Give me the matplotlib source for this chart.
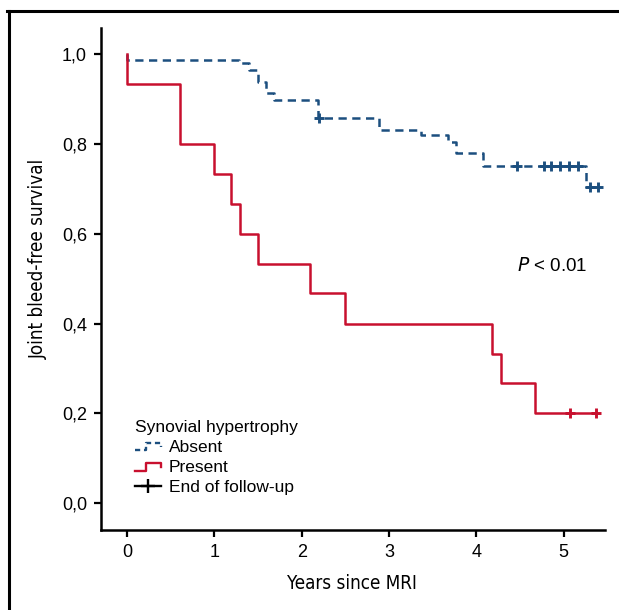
import matplotlib
matplotlib.use("Agg")
import matplotlib.pyplot as plt
from matplotlib.lines import Line2D
from matplotlib.legend_handler import HandlerBase

# Kaplan-Meier steps, synovial hypertrophy absent
absent_t = [0, 0, 1.28, 1.40, 1.50, 1.59, 1.68, 2.19, 2.88, 3.37, 3.67, 3.77, 4.07, 5.26, 5.40]
absent_s = [1.0, 0.987, 0.980, 0.964, 0.937, 0.913, 0.897, 0.857, 0.831, 0.820, 0.804, 0.780, 0.750, 0.704, 0.704]
absent_cens_t = [2.20, 4.47, 4.77, 4.86, 4.96, 5.06, 5.16, 5.30, 5.39]
absent_cens_s = [0.857, 0.750, 0.750, 0.750, 0.750, 0.750, 0.750, 0.704, 0.704]

# synovial hypertrophy present
present_t = [0, 0, 0.61, 1.0, 1.19, 1.29, 1.50, 2.09, 2.49, 4.18, 4.28, 4.67, 5.37]
present_s = [1.0, 0.933, 0.800, 0.733, 0.667, 0.600, 0.533, 0.467, 0.400, 0.333, 0.267, 0.200, 0.200]
present_cens_t = [5.07, 5.37]
present_cens_s = [0.200, 0.200]

xticks = [0, 1, 2, 3, 4, 5]
yticks = [0.0, 0.2, 0.4, 0.6, 0.8, 1.0]
ytick_labels = ["0,0", "0,2", "0,4", "0,6", "0,8", "1,0"]

BLUE = "#1c4f7f"
RED = "#c8102e"
FONT = ["Liberation Sans", "DejaVu Sans"]

plt.rcParams["font.family"] = FONT


class HandlerStep(HandlerBase):
    # small step icon like the original legend
    def create_artists(self, legend, orig_handle, xdescent, ydescent,
                       width, height, fontsize, trans):
        x0, x1 = -xdescent, -xdescent + width
        y0, y1 = -ydescent + 0.15 * height, -ydescent + 0.75 * height
        xs = [x0, x0 + 0.45 * width, x0 + 0.45 * width, x1, x1]
        ys = [y0, y0, y1, y1, y0 + 0.25 * height]
        ln = Line2D(xs, ys, color=orig_handle.get_color(),
                    linestyle=orig_handle.get_linestyle(),
                    linewidth=orig_handle.get_linewidth(), transform=trans)
        if orig_handle.get_linestyle() != "-":
            ln.set_dashes((2.2, 1.6))
        return [ln]


fig = plt.figure(figsize=(6.19, 6.10), dpi=100)
ax = fig.add_axes([0.163, 0.131, 0.814, 0.823])

ax.plot(absent_t, absent_s, drawstyle="steps-post", color=BLUE,
        linewidth=1.8, dashes=(3.3, 2.2))
ax.plot(absent_cens_t, absent_cens_s, linestyle="none", marker="+",
        color=BLUE, markersize=7.5, markeredgewidth=2.1)
ax.plot(present_t, present_s, drawstyle="steps-post", color=RED, linewidth=1.8)
ax.plot(present_cens_t, present_cens_s, linestyle="none", marker="+",
        color=RED, markersize=7.5, markeredgewidth=2.1)

ax.set_xlim(-0.30, 5.47)
ax.set_ylim(-0.06, 1.058)
ax.set_xticks(xticks)
ax.set_yticks(yticks)
ax.set_yticklabels(ytick_labels)
ax.tick_params(direction="out", length=5, width=1.6, labelsize=13, pad=5)

for side in ["top", "right"]:
    ax.spines[side].set_visible(False)
for side in ["left", "bottom"]:
    ax.spines[side].set_linewidth(1.8)

ax.set_xlabel("Years since MRI", fontsize=13.5, family="DejaVu Sans",
              fontstretch="condensed")
ax.set_ylabel("Joint bleed-free survival", fontsize=13.5, family="DejaVu Sans",
              fontstretch="condensed")
ax.xaxis.set_label_coords(0.498, -0.088)
ax.yaxis.set_label_coords(-0.105, 0.54)

ax.text(0.895, 0.526, r"$P$ < 0.01", transform=ax.transAxes, fontsize=13.5,
        ha="center", va="center")

h_abs = Line2D([], [], color=BLUE, linestyle="--", linewidth=1.7)
h_pre = Line2D([], [], color=RED, linestyle="-", linewidth=1.7)
h_end = Line2D([], [], color="black", linewidth=1.7, marker="+",
               markersize=10, markeredgewidth=1.7)
leg = ax.legend([h_abs, h_pre, h_end], ["Absent", "Present", "End of follow-up"],
                handler_map={h_abs: HandlerStep(), h_pre: HandlerStep()},
                title="Synovial hypertrophy", loc="lower left",
                bbox_to_anchor=(0.043, 0.045), frameon=False, fontsize=12.5,
                title_fontsize=12.5, handlelength=1.5, handletextpad=0.45,
                labelspacing=0.28, borderpad=0.2, alignment="left")

# panel frame (left and top edges only)
fig.add_artist(Line2D([0.014, 0.014], [0.0, 0.982], transform=fig.transFigure,
                      color="black", linewidth=2.2))
fig.add_artist(Line2D([0.012, 1.0], [0.982, 0.982], transform=fig.transFigure,
                      color="black", linewidth=2.2))

fig.savefig("out.png", dpi=100)
